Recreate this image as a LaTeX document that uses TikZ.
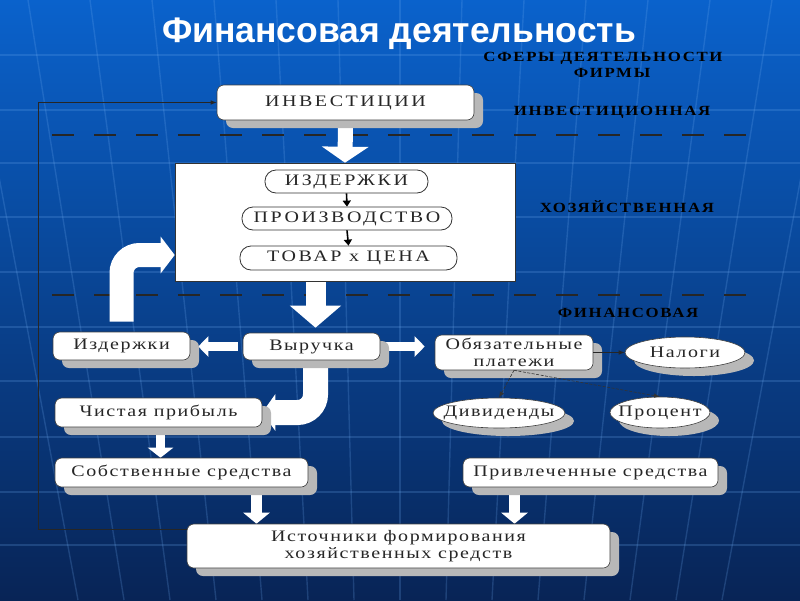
\documentclass[tikz,border=0pt]{standalone}
\usepackage{fontspec}
\setmainfont{Liberation Serif}
\newfontfamily\titlefont{Liberation Sans}
\newfontfamily\lowfont{Liberation Serif}[FakeStretch=1.25, LetterSpace=10]
\newfontfamily\capfont{Liberation Serif}[FakeStretch=1.25, LetterSpace=16]
\newfontfamily\sphfont{Liberation Serif}[FakeStretch=1.2, LetterSpace=12]
\usetikzlibrary{arrows.meta,shapes.geometric,shadows,calc}
\pgfdeclarelayer{bg}
\pgfdeclarelayer{under}
\pgfsetlayers{bg,under,main}
\definecolor{bgtop}{RGB}{10,98,204}
\definecolor{bgmid}{RGB}{10,62,148}
\definecolor{bgbot}{RGB}{8,36,86}
\definecolor{gridblue}{RGB}{110,170,240}
\begin{document}
\begin{tikzpicture}[x=1pt,y=-1pt,
 box/.style={draw=black!75, line width=0.6pt, fill=white, rounded corners=7pt, inner sep=0pt, align=center, text=black!85,
   font=\lowfont\fontsize{16pt}{17pt}\selectfont,
   drop shadow={shadow xshift=9pt, shadow yshift=-8pt, fill=black!28, opacity=1}},
 capbox/.style={box, font=\capfont\fontsize{16pt}{18pt}\selectfont},
 pill/.style={draw=black!80, line width=0.8pt, fill=white, rounded corners=11pt, inner sep=0pt, text=black!85,
   font=\capfont\fontsize{16pt}{18pt}\selectfont},
 oval/.style={ellipse, draw=black!75, line width=0.6pt, fill=white, inner sep=0pt, text=black!85,
   font=\lowfont\fontsize{16pt}{18pt}\selectfont,
   drop shadow={shadow xshift=9pt, shadow yshift=-8pt, fill=black!28, opacity=1}},
 sphere/.style={text=black, inner sep=0pt, font=\sphfont\bfseries\fontsize{14pt}{15pt}\selectfont},
 block/.style={draw=white, line width=#1},
 smallarr/.style={draw=black, line width=1.6pt, -{Triangle[length=6pt,width=8pt]}},
 thinarrow/.style={draw=black!85, line width=0.7pt, -{Latex[length=6pt,width=4.5pt]}},
 dotarrow/.style={draw=black!80, line width=0.6pt, dash pattern=on 3pt off 1.5pt, -{Latex[length=6pt,width=4.5pt]}},
 dashline/.style={draw=black!85, line width=1.3pt, dash pattern=on 22pt off 20pt},
 globe/.style={draw=gridblue, line width=1.4pt, opacity=0.22}
]
\useasboundingbox (0,0) rectangle (800,600);
\begin{pgfonlayer}{bg}
 \shade[top color=bgtop, middle color=bgmid, bottom color=bgbot] (0,0) rectangle (800,600);
 \foreach \yy in {55,110,163,217,272,327,381,437,492,545}
   \draw[globe] (0,\yy) -- (800,\yy);
 \foreach \k in {-7,...,7}
   \draw[globe] ({400+\k*62},0) -- ({400+\k*46},600);
 \draw[dashline] (52,135) -- (757,135);
 \draw[dashline] (52,295) -- (757,295);
\end{pgfonlayer}

% title and sphere labels
\node[text=white, font=\titlefont\bfseries\fontsize{35.5pt}{40pt}\selectfont] (title) at (399,34) {Финансовая деятельность};
\node[sphere] (sf1) at (603,58) {СФЕРЫ ДЕЯТЕЛЬНОСТИ};
\node[sphere] (sf2) at (612,73) {ФИРМЫ};
\node[sphere] (sinv) at (612,112) {ИНВЕСТИЦИОННАЯ};
\node[sphere] (shoz) at (627,207) {ХОЗЯЙСТВЕННАЯ};
\node[sphere] (sfin) at (628,313) {ФИНАНСОВАЯ};

% nodes
\node[capbox, minimum width=257pt, minimum height=35pt] (inv) at (345.5,102.5) {ИНВЕСТИЦИИ};
\node[draw=black!80, line width=0.6pt, fill=white, minimum width=340pt, minimum height=118pt, inner sep=0pt] (big) at (345,222) {};
\node[pill, minimum width=163pt, minimum height=23pt] (izd) at (346.5,181.5) {ИЗДЕРЖКИ};
\node[pill, minimum width=210pt, minimum height=23pt] (pro) at (347,218.5) {ПРОИЗВОДСТВО};
\node[pill, minimum width=217pt, minimum height=24pt] (tov) at (348.5,258) {ТОВАР х ЦЕНА};
\node[box, minimum width=137pt, minimum height=28pt] (izd2) at (121.5,346) {Издержки};
\node[box, minimum width=137pt, minimum height=27pt] (vyr) at (311.5,346.5) {Выручка};
\node[box, minimum width=158pt, minimum height=35pt] (obz) at (514,352.5) {Обязательные\\платежи};
\node[oval, minimum width=120pt, minimum height=31pt] (nal) at (685,352.5) {\makebox[0pt]{Налоги}};
\node[oval, minimum width=132pt, minimum height=30pt] (div) at (499,413) {\makebox[0pt]{Дивиденды}};
\node[oval, minimum width=100pt, minimum height=31pt] (proc) at (660,412.5) {\makebox[0pt]{Процент}};
\node[box, minimum width=207pt, minimum height=29pt] (chp) at (158.5,412.5) {Чистая прибыль};
\node[box, minimum width=253pt, minimum height=29pt] (sob) at (181.5,472.5) {Собственные средства};
\node[box, minimum width=255pt, minimum height=29pt] (pri) at (590.5,472.5) {Привлеченные средства};
\node[box, minimum width=423pt, minimum height=44pt] (src) at (398.5,546) {Источники формирования\\хозяйственных средств};

% block arrows (under the boxes)
\coordinate (vtop) at ([xshift=4pt]vyr.north);
\coordinate (vb) at ([xshift=4pt]vyr.south);
\coordinate (bt) at ([yshift=3pt]tov.west);
\coordinate (cs) at ([xshift=2pt]chp.south);
\coordinate (ss) at ([xshift=75pt]sob.south);
\coordinate (ps) at ([xshift=-76pt]pri.south);
\begin{pgfonlayer}{under}
 \draw[block=15pt, -{Triangle[length=16pt,width=46pt]}] (inv.south) -- (big.north);
 \draw[block=20pt, -{Triangle[length=22pt,width=50pt]}] (vtop |- big.south) -- ([yshift=5pt]vtop);
 \draw[block=9pt, -{Triangle[length=10pt,width=20pt]}, shorten <=5pt, shorten >=8pt] (vyr.west) -- (vyr.west -| izd2.east);
 \draw[block=9pt, -{Triangle[length=10pt,width=20pt]}, shorten <=3pt, shorten >=10pt] (vyr.east) -- (vyr.east -| obz.west);
 \draw[block=25pt, rounded corners=18pt, -{Triangle[length=13pt,width=36pt]}] (vb) |- (chp.east);
 \draw[block=24pt, rounded corners=18pt, -{Triangle[length=14pt,width=36pt]}] ([yshift=10pt]izd2.north) |- (big.west |- bt);
 \draw[block=9pt, -{Triangle[length=10pt,width=25pt]}] (cs) -- (cs |- sob.north);
 \draw[block=11pt, -{Triangle[length=11pt,width=26pt]}] (ss) -- (ss |- src.north);
 \draw[block=11pt, -{Triangle[length=11pt,width=26pt]}] (ps) -- (ps |- src.north);
\end{pgfonlayer}

% thin connectors
\draw[smallarr] (izd.south) -- (pro.north);
\draw[smallarr] (pro.south) -- (tov.north);
\draw[thinarrow] (obz.east) -- (nal.west);
\draw[dotarrow] (obz.south) -- (div.north);
\draw[dotarrow] (obz.south) -- (proc.north);
\draw[thinarrow] ([yshift=-6pt]src.north west) -- ++(-148,0) |- (inv.west);
\end{tikzpicture}
\end{document}
